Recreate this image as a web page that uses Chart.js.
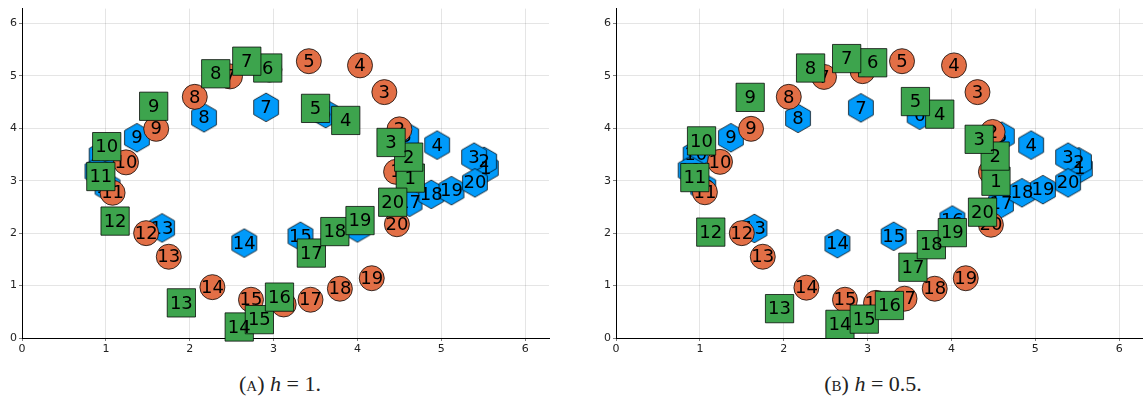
<!DOCTYPE html>
<html>
<head>
<meta charset="utf-8">
<script src="https://cdn.jsdelivr.net/npm/chart.js@4/dist/chart.umd.min.js"></script>
<style>
  body { margin: 0; width: 1143px; height: 414px; background: #fff; overflow: hidden; position: relative; }
  .panel { position: absolute; top: 0; width: 551px; height: 358px; }
  .caption { position: absolute; top: 371px; width: 400px; text-align: center;
             font-family: "Liberation Serif", "DejaVu Serif", serif; font-size: 22px; color: #222; }
  .caption .sc { font-variant: small-caps; }
  .caption i { font-style: italic; }
</style>
</head>
<body>
<div class="panel" style="left:0px"><canvas id="chartA"></canvas></div>
<div class="panel" style="left:594px"><canvas id="chartB"></canvas></div>
<div class="caption" style="left:80px"><span class="sc">(a)</span> <i>h</i> = 1.</div>
<div class="caption" style="left:673px"><span class="sc">(b)</span> <i>h</i> = 0.5.</div>
<script>
// step numbers written next to each marker
const stepLabels = ['1','2','3','4','5','6','7','8','9','10','11','12','13','14','15','16','17','18','19','20'];
const axisTicks = [0, 1, 2, 3, 4, 5, 6];

// panel (A) h = 1
const orangeA_x = [4.46, 4.50, 4.32, 4.03, 3.42, 2.95, 2.48, 2.06, 1.60, 1.24, 1.08, 1.48, 1.75, 2.27, 2.73, 3.12, 3.44, 3.79, 4.17, 4.47];
const orangeA_y = [3.17, 3.98, 4.69, 5.20, 5.28, 5.12, 4.99, 4.60, 3.99, 3.35, 2.77, 2.00, 1.55, 0.97, 0.73, 0.64, 0.73, 0.94, 1.14, 2.17];
const blueA_x = [5.53, 5.51, 5.39, 4.95, 4.58, 3.62, 2.91, 2.17, 1.37, 0.95, 0.90, 1.02, 1.67, 2.65, 3.32, 4.00, 4.62, 4.88, 5.12, 5.40];
const blueA_y = [3.24, 3.37, 3.45, 3.68, 3.85, 4.28, 4.40, 4.20, 3.82, 3.48, 3.18, 2.88, 2.10, 1.81, 1.94, 2.10, 2.59, 2.74, 2.81, 2.96];
const greenA_x = [4.63, 4.61, 4.40, 3.86, 3.50, 2.93, 2.68, 2.31, 1.57, 1.01, 0.94, 1.11, 1.90, 2.59, 2.83, 3.07, 3.45, 3.73, 4.03, 4.42];
const greenA_y = [3.05, 3.45, 3.73, 4.15, 4.38, 5.15, 5.28, 5.04, 4.42, 3.65, 3.08, 2.23, 0.67, 0.21, 0.35, 0.78, 1.62, 2.03, 2.24, 2.59];

// panel (B) h = 0.5
const orangeB_x = [4.47, 4.49, 4.31, 4.03, 3.41, 2.94, 2.48, 2.06, 1.61, 1.24, 1.06, 1.50, 1.75, 2.27, 2.73, 3.10, 3.44, 3.80, 4.17, 4.47];
const orangeB_y = [3.17, 3.93, 4.69, 5.20, 5.28, 5.09, 4.98, 4.60, 3.99, 3.36, 2.78, 2.00, 1.55, 0.96, 0.73, 0.67, 0.75, 0.94, 1.14, 2.16];
const blueB_x = [5.53, 5.52, 5.39, 4.95, 4.60, 3.62, 2.92, 2.17, 1.37, 0.95, 0.89, 1.04, 1.65, 2.64, 3.31, 4.01, 4.59, 4.84, 5.09, 5.39];
const blueB_y = [3.23, 3.36, 3.45, 3.68, 3.85, 4.25, 4.39, 4.19, 3.82, 3.50, 3.20, 2.88, 2.09, 1.80, 1.94, 2.25, 2.56, 2.77, 2.83, 2.96];
const greenB_x = [4.53, 4.52, 4.33, 3.86, 3.57, 3.06, 2.75, 2.32, 1.60, 1.02, 0.94, 1.13, 1.95, 2.67, 2.96, 3.26, 3.54, 3.76, 4.01, 4.37];
const greenB_y = [2.99, 3.47, 3.79, 4.27, 4.51, 5.25, 5.33, 5.15, 4.59, 3.76, 3.06, 2.02, 0.56, 0.26, 0.36, 0.62, 1.35, 1.78, 2.01, 2.40];

const ORANGE = '#E26F46', BLUE = '#009AFA', GREEN = '#3DA44D';

// hexagon marker (chart.js has no built-in one)
const hex = document.createElement('canvas');
hex.width = 30; hex.height = 31;
(() => {
  const c = hex.getContext('2d');
  const r = 14.3, cx = 15, cy = 15.5;
  c.beginPath();
  for (let k = 0; k < 6; k++) {
    const a = Math.PI / 2 + k * Math.PI / 3;
    c.lineTo(cx + r * Math.cos(a), cy + r * Math.sin(a));
  }
  c.closePath();
  c.fillStyle = BLUE;
  c.fill();
  c.strokeStyle = 'rgba(0,0,0,0.75)';
  c.lineWidth = 1;
  c.stroke();
})();

const toPoints = (xs, ys) => xs.map((x, i) => ({ x: x, y: ys[i] }));

// number each marker right after its own series is drawn, so layering matches
const numberPlugin = {
  id: 'numbers',
  afterDatasetDraw(chart, args) {
    const ctx = chart.ctx;
    ctx.save();
    ctx.font = '18px "DejaVu Sans"';
    ctx.fillStyle = '#000';
    ctx.textAlign = 'center';
    ctx.textBaseline = 'middle';
    args.meta.data.forEach((pt, i) => ctx.fillText(stepLabels[i], pt.x, pt.y + 1));
    ctx.restore();
  }
};

function makePanel(id, ox, oy, bx, by, gx, gy) {
  const axis = (isX) => ({
    type: 'linear',
    min: 0,
    max: 2 * Math.PI,
    afterBuildTicks: s => { s.ticks = axisTicks.map(v => ({ value: v })); },
    afterFit: isX ? (s => { s.height = 20; }) : (s => { s.width = 22; }),
    border: { color: '#000', width: 1 },
    grid: { color: 'rgba(0,0,0,0.1)', tickLength: 3, tickColor: 'rgba(0,0,0,0.5)' },
    ticks: { color: '#222', font: { family: 'DejaVu Sans', size: 11 }, padding: 2 }
  });

  return new Chart(document.getElementById(id), {
    type: 'scatter',
    data: {
      datasets: [
        { label: 'h step', data: toPoints(gx, gy), pointStyle: 'rect', pointRadius: 20,
          backgroundColor: GREEN, borderColor: 'rgba(0,0,0,0.75)', borderWidth: 1 },
        { label: 'exact', data: toPoints(ox, oy), pointStyle: 'circle', pointRadius: 12.5,
          backgroundColor: ORANGE, borderColor: 'rgba(0,0,0,0.75)', borderWidth: 1 },
        { label: 'other', data: toPoints(bx, by), pointStyle: hex,
          backgroundColor: BLUE, borderWidth: 0 }
      ]
    },
    options: {
      responsive: true,
      maintainAspectRatio: false,
      animation: false,
      events: [],
      clip: false,
      layout: { autoPadding: false, padding: { top: 0, right: 2, left: 0, bottom: 0 } },
      plugins: { legend: { display: false }, tooltip: { enabled: false } },
      scales: { x: axis(true), y: axis(false) }
    },
    plugins: [numberPlugin]
  });
}

makePanel('chartA', orangeA_x, orangeA_y, blueA_x, blueA_y, greenA_x, greenA_y);
makePanel('chartB', orangeB_x, orangeB_y, blueB_x, blueB_y, greenB_x, greenB_y);
</script>
</body>
</html>
